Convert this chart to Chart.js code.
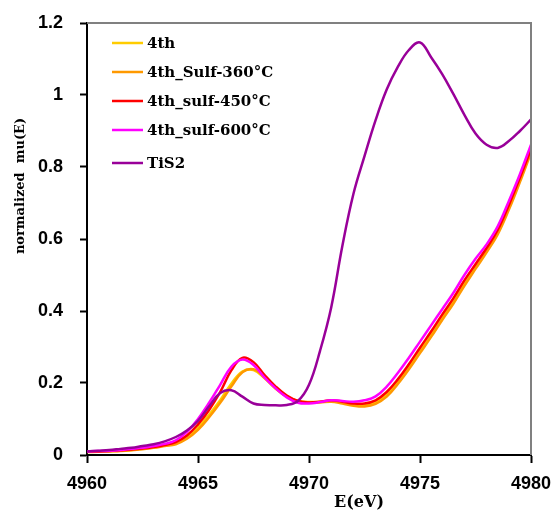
<!DOCTYPE html>
<html><head><meta charset="utf-8">
<script src="https://cdn.jsdelivr.net/npm/chart.js@4"></script>
<style>html,body{margin:0;padding:0;background:#fff}#wrap{width:552px;height:511px}</style>
</head><body><div id="wrap"><canvas id="c" width="552" height="511"></canvas></div>
<script>
const energy = [4960,4960.5,4961,4961.5,4962,4962.5,4963,4963.5,4964,4964.5,4965,4965.5,4966,4966.5,4967,4967.5,4968,4968.5,4969,4969.5,4970,4970.5,4971,4971.5,4972,4972.5,4973,4973.5,4974,4974.5,4975,4975.5,4976,4976.5,4977,4977.5,4978,4978.5,4979,4979.5,4980];
const s4th = [0.009,0.010,0.011,0.012,0.014,0.017,0.021,0.026,0.032,0.048,0.076,0.112,0.152,0.198,0.232,0.236,0.213,0.184,0.162,0.150,0.147,0.148,0.150,0.146,0.140,0.138,0.146,0.167,0.202,0.243,0.288,0.333,0.380,0.425,0.475,0.522,0.568,0.618,0.686,0.763,0.845];
const s360 = [0.008,0.009,0.010,0.011,0.013,0.016,0.020,0.025,0.030,0.045,0.070,0.105,0.145,0.190,0.230,0.238,0.215,0.185,0.162,0.150,0.146,0.146,0.148,0.143,0.137,0.135,0.142,0.162,0.197,0.238,0.283,0.328,0.375,0.420,0.470,0.517,0.563,0.613,0.681,0.758,0.840];
const s450 = [0.010,0.010,0.011,0.013,0.015,0.018,0.022,0.028,0.036,0.054,0.085,0.125,0.175,0.235,0.270,0.258,0.222,0.190,0.165,0.150,0.146,0.148,0.152,0.148,0.143,0.143,0.152,0.175,0.210,0.252,0.298,0.343,0.390,0.435,0.485,0.530,0.575,0.625,0.694,0.770,0.850];
const s600 = [0.010,0.011,0.012,0.014,0.017,0.020,0.025,0.031,0.041,0.064,0.100,0.145,0.195,0.245,0.265,0.250,0.215,0.185,0.160,0.145,0.143,0.147,0.152,0.150,0.148,0.152,0.163,0.190,0.228,0.270,0.315,0.360,0.405,0.450,0.500,0.545,0.585,0.635,0.705,0.780,0.862];
const sTiS2 = [0.010,0.012,0.014,0.017,0.020,0.025,0.030,0.038,0.050,0.068,0.095,0.135,0.172,0.180,0.162,0.143,0.139,0.138,0.139,0.150,0.195,0.290,0.410,0.580,0.725,0.830,0.930,1.015,1.078,1.125,1.146,1.105,1.058,1.003,0.945,0.893,0.862,0.853,0.872,0.900,0.932];
const seriesNames = ['4th','4th_Sulf-360°C','4th_sulf-450°C','4th_sulf-600°C','TiS2'];
const seriesColors = ['#FFCC00','#FF9900','#FF0000','#FF00FF','#990099'];
const seriesValues = [s4th, s360, s450, s600, sTiS2];
const xTicks = [4960,4965,4970,4975,4980];
const yTicks = [0,0.2,0.4,0.6,0.8,1,1.2];
const xTitle = 'E(eV)';
const yTitle = 'normalized  mu(E)';

const datasets = seriesNames.map((name, i) => ({
  label: name,
  data: energy.map((e, k) => ({x: e, y: seriesValues[i][k]})),
  borderColor: seriesColors[i],
  backgroundColor: seriesColors[i],
  borderWidth: 2.5,
  pointRadius: 0,
  fill: false,
  tension: 0.4,
  order: seriesNames.length - 1 - i
}));

const tickFont = {family: '"Liberation Sans", Arial, sans-serif', size: 18, weight: 'bold'};
const serif = '"DejaVu Serif", serif';

const decor = {
  id: 'decor',
  afterDraw(chart) {
    const ctx = chart.ctx, a = chart.chartArea;
    ctx.save();
    ctx.strokeStyle = '#808080';
    ctx.lineWidth = 2;
    ctx.beginPath();
    ctx.moveTo(a.left, a.top);
    ctx.lineTo(a.right, a.top);
    ctx.lineTo(a.right, a.bottom);
    ctx.stroke();
    const rows = [43, 72, 101, 130, 163];
    ctx.font = 'bold 15px ' + serif;
    ctx.textBaseline = 'middle';
    ctx.textAlign = 'left';
    seriesNames.forEach((n, i) => {
      ctx.strokeStyle = seriesColors[i];
      ctx.lineWidth = 2.5;
      ctx.beginPath();
      ctx.moveTo(112, rows[i]);
      ctx.lineTo(143, rows[i]);
      ctx.stroke();
      ctx.fillStyle = '#000';
      ctx.fillText(n, 147, rows[i] + 1);
    });
    ctx.font = 'bold 16px ' + serif;
    ctx.textAlign = 'center';
    ctx.textBaseline = 'alphabetic';
    ctx.fillText(xTitle, 359, 507);
    ctx.save();
    ctx.translate(24, 186);
    ctx.rotate(-Math.PI / 2);
    ctx.font = 'bold 13px ' + serif;
    ctx.fillText(yTitle, 0, 0);
    ctx.restore();
    ctx.restore();
  }
};

new Chart(document.getElementById('c'), {
  type: 'line',
  data: {datasets},
  plugins: [decor],
  options: {
    responsive: false,
    animation: false,
    devicePixelRatio: 1,
    layout: {padding: {top: 23, right: 21, left: 0, bottom: 0}},
    plugins: {legend: {display: false}, tooltip: {enabled: false}},
    scales: {
      x: {
        type: 'linear', min: 4960, max: 4980,
        afterBuildTicks: s => { s.ticks = xTicks.map(v => ({value: v})); },
        afterFit: s => { s.height = 56; s.paddingLeft = 0; s.paddingRight = 0; },
        ticks: {color: '#000', font: tickFont, padding: 10, maxRotation: 0, autoSkip: false,
                callback: v => String(v)},
        grid: {drawOnChartArea: false, tickLength: 8, tickWidth: 2, tickColor: '#000'},
        border: {color: '#000', width: 2}
      },
      y: {
        type: 'linear', min: 0, max: 1.2,
        afterBuildTicks: s => { s.ticks = yTicks.map(v => ({value: v})); },
        afterFit: s => { s.width = 87; s.paddingTop = 0; s.paddingBottom = 0; },
        ticks: {color: '#000', font: tickFont, padding: 17, autoSkip: false,
                callback: v => (v === 0 || v === 1) ? String(v) : v.toFixed(1)},
        grid: {drawOnChartArea: false, tickLength: 7, tickWidth: 2, tickColor: '#000'},
        border: {color: '#000', width: 2}
      }
    }
  }
});
</script></body></html>
